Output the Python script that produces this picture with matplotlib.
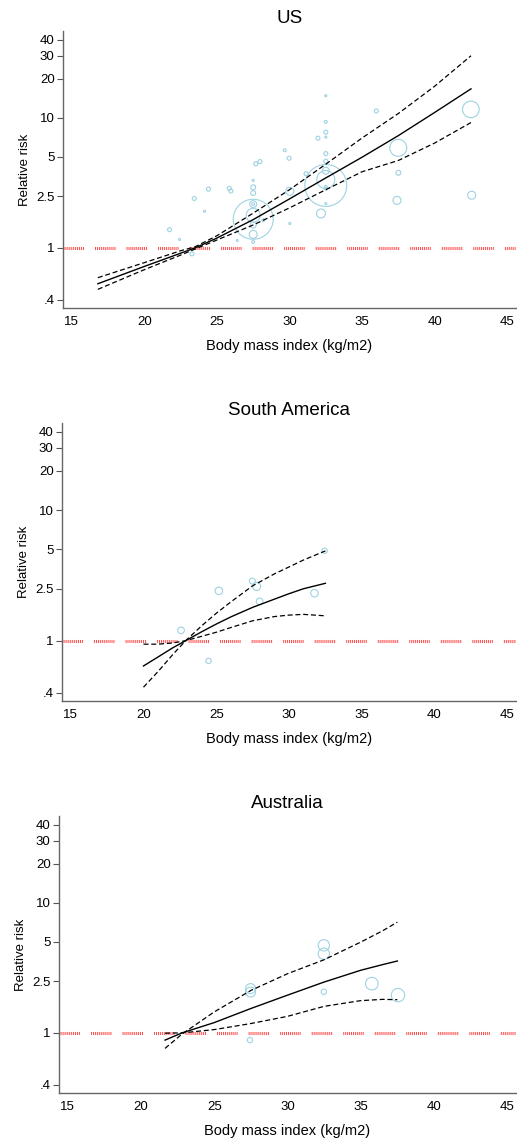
import numpy as np
import matplotlib
matplotlib.use("Agg")
import matplotlib.pyplot as plt

plt.rcParams['font.family'] = ['Liberation Sans', 'DejaVu Sans']
plt.rcParams['lines.scale_dashes'] = False

# ---- data ----
titles = ["US", "South America", "Australia"]
y_ticks = [0.4, 1, 2.5, 5, 10, 20, 30, 40]
y_ticklabels = [".4", "1", "2.5", "5", "10", "20", "30", "40"]
x_ticks = [15, 20, 25, 30, 35, 40, 45]

# US: pooled dose-response curve and 95% CI
us_bmi = [16.8, 20, 22.5, 23.5, 25, 27.5, 30, 32.5, 35, 37.5, 40, 42.5]
us_rr = [0.53, 0.72, 0.91, 1.0, 1.19, 1.65, 2.38, 3.45, 4.98, 7.3, 11.0, 16.7]
us_upper = [0.59, 0.77, 0.95, 1.02, 1.24, 1.85, 2.8, 4.4, 7.0, 10.8, 17.5, 30.0]
us_lower = [0.48, 0.68, 0.88, 0.98, 1.15, 1.5, 2.03, 2.8, 3.85, 4.7, 6.4, 9.2]

# US: study-level estimates (bmi, relative risk, weight)
us_pt_bmi = [21.74, 22.43, 23.28, 23.44, 24.15, 24.42, 25.85, 25.96, 26.40,
             27.68, 27.96, 27.5, 27.5, 27.5, 27.5, 27.5, 27.5, 27.5, 27.5,
             27.5, 27.5, 28.2, 29.67, 29.97, 30.02, 30.02, 31.14, 31.96,
             32.5, 32.5, 32.5, 32.5, 32.5, 32.5, 32.5, 32.5, 32.5, 32.5,
             32.5, 32.5, 32.17, 35.98, 37.49, 37.5, 37.4, 42.49, 42.55]
us_pt_rr = [1.38, 1.16, 0.90, 2.40, 1.91, 2.83, 2.87, 2.74, 1.14,
            4.43, 4.61, 3.30, 2.92, 2.64, 2.17, 2.17, 1.66, 1.78, 1.50,
            1.27, 1.11, 1.63, 5.63, 4.89, 2.72, 1.54, 3.72, 6.97,
            14.8, 9.3, 7.75, 7.1, 5.31, 4.64, 3.92, 3.35, 3.02, 2.95,
            2.85, 2.19, 1.84, 11.3, 5.88, 3.78, 2.32, 11.6, 2.54]
us_pt_w = [4, 1, 4, 4, 1, 4, 4, 4, 1,
           4, 4, 1, 6, 6, 12, 2, 400, 49, 9,
           16, 2, 2, 2, 4, 16, 1, 4, 4,
           1, 2, 4, 1, 4, 4, 12, 81, 441, 2,
           2, 1, 20, 4, 72, 6, 16, 69, 16]

# South America
sa_bmi = [20, 21, 22, 22.9, 24, 25, 26, 27.5, 29, 30, 31, 32.5]
sa_rr = [0.64, 0.75, 0.88, 1.0, 1.17, 1.34, 1.52, 1.80, 2.08, 2.29, 2.5, 2.75]
sa_upper = [0.44, 0.58, 0.78, 1.0, 1.3, 1.62, 1.98, 2.63, 3.25, 3.67, 4.15, 4.87]
sa_lower = [0.94, 0.94, 0.96, 1.0, 1.08, 1.16, 1.26, 1.42, 1.53, 1.57, 1.59, 1.55]
sa_pt_bmi = [22.58, 24.47, 25.18, 27.48, 27.78, 27.98, 31.75, 32.45]
sa_pt_rr = [1.20, 0.70, 2.41, 2.86, 2.60, 2.0, 2.31, 4.88]
sa_pt_w = [11, 7, 14, 9, 16, 11, 14, 7]

# Australia
au_bmi = [21.64, 22.8, 25, 27.5, 30, 32.5, 35, 36.5, 37.5]
au_rr = [0.88, 1.0, 1.2, 1.54, 1.95, 2.46, 3.03, 3.35, 3.57]
au_upper = [0.76, 0.98, 1.45, 2.12, 2.85, 3.65, 4.99, 6.1, 7.1]
au_lower = [0.995, 1.0, 1.06, 1.18, 1.34, 1.6, 1.77, 1.81, 1.80]
au_pt_bmi = [27.48, 27.48, 27.44, 32.48, 32.48, 32.48, 35.76, 37.54]
au_pt_rr = [2.19, 2.06, 0.88, 4.71, 4.06, 2.07, 2.39, 1.95]
au_pt_w = [25, 25, 7, 32, 32, 7, 40, 45]

panels = [
    (us_bmi, us_rr, us_upper, us_lower, us_pt_bmi, us_pt_rr, us_pt_w),
    (sa_bmi, sa_rr, sa_upper, sa_lower, sa_pt_bmi, sa_pt_rr, sa_pt_w),
    (au_bmi, au_rr, au_upper, au_lower, au_pt_bmi, au_pt_rr, au_pt_w),
]

W, H = 517, 1141
fig = plt.figure(figsize=(W / 100, H / 100), dpi=100)

# axes boxes in pixels: left, top, bottom
boxes = [(63, 31, 308), (62, 423, 701), (59, 816, 1093)]

red_dash = [0.7, 0.7] * 10 + [0.7, 8.0]

for (bmi, rr, up, lo, pb, pr, pw), (l, t, b), title in zip(panels, boxes, titles):
    ax = fig.add_axes([l / W, (H - b) / H, (516 - l) / W, (b - t) / H])
    ax.set_yscale('log')
    ax.set_xlim(14.4, 45.6)
    ax.set_ylim(0.345, 46.5)

    ax.plot([14.4, 45.6], [1, 1], color='#ff2a2a', lw=2.2, alpha=0.85,
            dashes=red_dash, solid_capstyle='butt', dash_capstyle='butt', zorder=1)

    ax.scatter(pb, pr, s=np.array(pw) * 2.07, facecolors='none',
               edgecolors='#9fd2e2', linewidths=0.8, zorder=2)

    ax.plot(bmi, rr, color='black', lw=1.0, zorder=3)
    ax.plot(bmi, up, color='black', lw=0.9, dashes=(3.6, 2.0), zorder=3)
    ax.plot(bmi, lo, color='black', lw=0.9, dashes=(3.6, 2.0), zorder=3)

    ax.set_yticks(y_ticks)
    ax.set_yticklabels(y_ticklabels)
    ax.yaxis.set_minor_locator(matplotlib.ticker.NullLocator())
    ax.set_xticks(x_ticks)
    ax.tick_params(axis='y', length=4, width=0.8, color='#555555', pad=2,
                   labelsize=9.5)
    ax.tick_params(axis='x', length=0, pad=6, labelsize=9.5)

    for s in ['top', 'right']:
        ax.spines[s].set_visible(False)
    for s in ['left', 'bottom']:
        ax.spines[s].set_color('#666666')
        ax.spines[s].set_linewidth(1.0)

    ax.set_ylabel("Relative risk", fontsize=9.5, labelpad=4)
    ax.set_xlabel("Body mass index (kg/m2)", fontsize=10.5, labelpad=8)
    ax.set_title(title, fontsize=13.5, pad=6)

fig.savefig("out.png", dpi=100)
